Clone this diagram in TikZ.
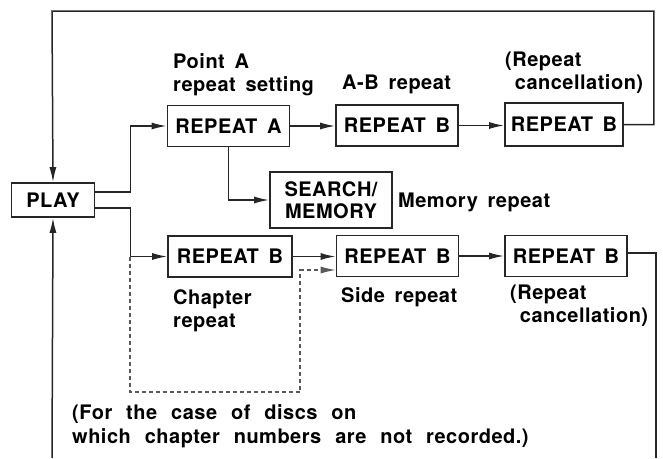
\documentclass[tikz,border=0pt]{standalone}
\usepackage{fontspec}
\setmainfont{TeX Gyre Heros}[WordSpace=1.6, LetterSpace=2.5]
\newfontfamily\notefont{TeX Gyre Heros}[WordSpace=2.3, LetterSpace=2.5]
\usetikzlibrary{positioning,arrows.meta,calc}

\begin{document}
\begin{tikzpicture}[
    x=1pt, y=-1pt,
    font=\fontsize{20}{23}\selectfont\bfseries,
    ln/.style   = {draw=black!85, line width=1.5pt},
    arr/.style  = {ln, -{Latex[length=15pt,width=7pt]}},
    dsh/.style  = {draw=black!65, line width=1.1pt, dash pattern=on 4pt off 3pt},
    box/.style  = {draw=black!85, line width=1.6pt, inner sep=0pt,
                   minimum width=122pt, minimum height=41pt,
                   font=\fontsize{20}{22}\selectfont\bfseries},
    lbl/.style  = {inner sep=0pt, anchor=north west, align=left},
]
\useasboundingbox (0,0) rectangle (663,458);

%======== boxes ========
\node[box, minimum width=83pt, minimum height=34pt] (play) at (53,200) {PLAY};
\node[box] (repA) at (228.5,126) {REPEAT A};
\node[box] (abB) at (397,125.5) {REPEAT B};
\node[box, minimum width=118pt, minimum height=43pt] (cancA) at (564,124.5) {REPEAT B};
\node[box, minimum height=56pt, align=center] (srch) at (331,200) {SEARCH/\\MEMORY};
\node[box, minimum width=124pt] (chap) at (230,256.5) {REPEAT B};
\node[box] (side) at (397.5,256) {REPEAT B};
\node[box] (cancB) at (566,256) {REPEAT B};

%======== labels ========
\node[lbl] (ptA)   at (173,53)  {Point A\\repeat setting};
\node[lbl] (abL)   at (342,75)  {A-B repeat};
\node[lbl] (cnA)   at (505,52)  {(Repeat\\\ cancellation)};
\node[lbl] (memL)  at (398,193) {Memory repeat};
\node[lbl] (chL)   at (173,289) {Chapter\\repeat};
\node[lbl] (sdL)   at (341,287) {Side repeat};
\node[lbl] (cnB)   at (510,285) {(Repeat\\\ cancellation)};
\node[lbl, font=\notefont\fontsize{20}{24}\selectfont\bfseries] (note)
  at (72,404) {(For the case of discs on\\which chapter numbers are not recorded.)};

%======== loop ends (cut off at the bottom edge) ========
\coordinate (tl) at (52,11);
\coordinate (bl) at (52,458);
\coordinate (br) at (656,458);
\coordinate (dk) at (130,392);
\coordinate (dt) at (300,270);

%======== upper branch ========
\draw[arr] ([yshift=8pt]play.east) -- ++(35,0) |- (repA.west);
\draw[arr] (repA.east) -- (repA.east -| abB.west);
\draw[arr] (abB.east) -- (abB.east -| cancA.west);
\draw[arr] (repA.south) |- (srch.west);
\draw[arr] (cancA.east) -- ++(30,0) |- (tl) -- (play.north);

%======== lower branch ========
\draw[arr] ([yshift=-8pt]play.east) -- ++(35,0) |- (chap.west);
\draw[arr] (chap.east) -- (chap.east -| side.west);
\draw[arr] (side.east) -- (side.east -| cancB.west);
\draw[ln] ([yshift=3pt]cancB.east) -| (br);
\draw[arr] (bl) -- (play.south);

% dashed by-pass for discs without chapter numbers
\draw[arr, dsh] (chap.west -| dk) -- (dk) -| (dt) -- ([yshift=-14pt]side.west);

\end{tikzpicture}
\end{document}
